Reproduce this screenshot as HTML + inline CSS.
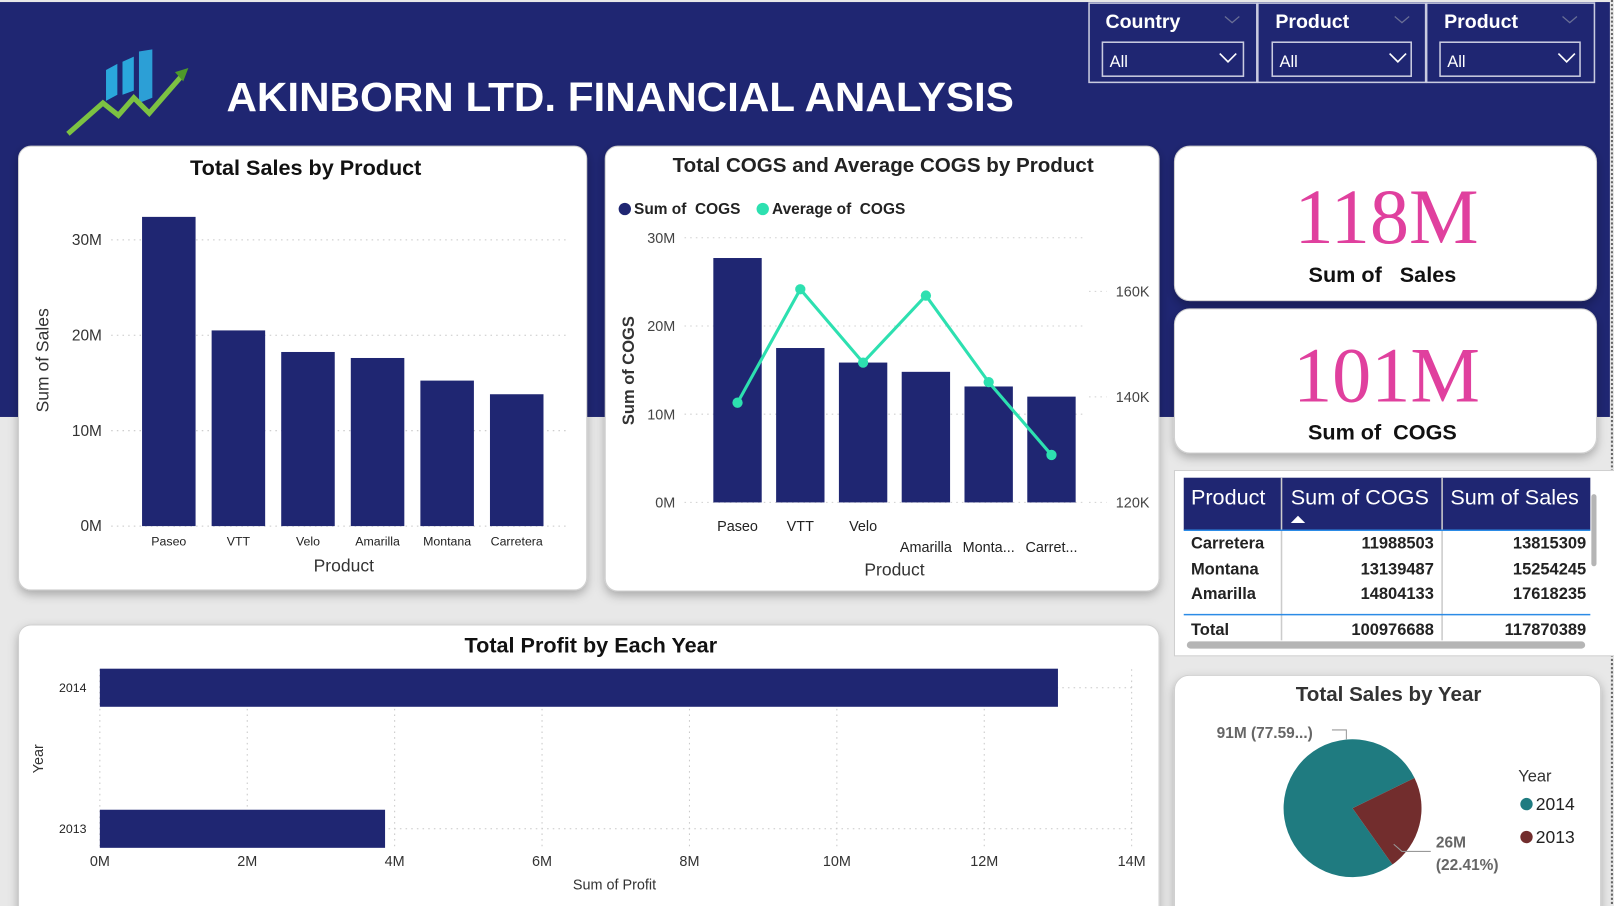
<!DOCTYPE html>
<html><head><meta charset="utf-8">
<style>
html,body{margin:0;padding:0;background:#e8e8e8;overflow:hidden}
svg{display:block}
text{font-family:"Liberation Sans",sans-serif;white-space:pre}
</style></head>
<body>
<svg id="root" xmlns="http://www.w3.org/2000/svg" width="1614" height="906" viewBox="0 0 1568 880" preserveAspectRatio="none">
<defs>
<filter id="sh" x="-5%" y="-5%" width="110%" height="115%"><feDropShadow dx="0" dy="4" stdDeviation="5" flood-color="#000" flood-opacity="0.28"/></filter>
</defs>
<rect x="0" y="0" width="1568" height="880" fill="#e8e8e8"/>
<rect x="0" y="2" width="1564" height="403" fill="#1f2672"/>
<line x1="1566" y1="0" x2="1566" y2="880" stroke="#666" stroke-width="2" stroke-dasharray="2,2"/>

<g>
<polygon points="103,68 114,62 114,92 103,98" fill="#2aa7dc"/>
<polygon points="119,60 130,55 130,88 119,92" fill="#2aa7dc"/>
<polygon points="135,50 148,48 148,95 135,100" fill="#2c9fd6"/>
<polyline points="66,130 100,100 115,112 130,95 145,110 178,72" fill="none" stroke="#7cc242" stroke-width="5"/>
<polygon points="183,66 170,70 178,79" fill="#4e9a2a"/>
</g>
<text x="220" y="108" font-size="40" font-weight="bold" fill="#fff" textLength="765" lengthAdjust="spacingAndGlyphs">AKINBORN LTD. FINANCIAL ANALYSIS</text>

<g>
<rect x="1058" y="3" width="163" height="77" fill="none" stroke="#c9cbe0" stroke-width="1.5"/>
<text x="1074" y="27" font-size="19" font-weight="bold" fill="#fff">Country</text>
<polyline points="1190,16 1197,22 1204,16" fill="none" stroke="#6a6f96" stroke-width="1.2"/>
<rect x="1071" y="41" width="137" height="33" fill="none" stroke="#c9cbe0" stroke-width="1.5"/>
<text x="1078" y="65" font-size="16" fill="#fff">All</text>
<polyline points="1185,52 1193,60 1201,52" fill="none" stroke="#fff" stroke-width="1.6"/>
</g>
<g>
<rect x="1222" y="3" width="163" height="77" fill="none" stroke="#c9cbe0" stroke-width="1.5"/>
<text x="1239" y="27" font-size="19" font-weight="bold" fill="#fff">Product</text>
<polyline points="1355,16 1362,22 1369,16" fill="none" stroke="#6a6f96" stroke-width="1.2"/>
<rect x="1236" y="41" width="135" height="33" fill="none" stroke="#c9cbe0" stroke-width="1.5"/>
<text x="1243" y="65" font-size="16" fill="#fff">All</text>
<polyline points="1350,52 1358,60 1366,52" fill="none" stroke="#fff" stroke-width="1.6"/>
</g>
<g>
<rect x="1386" y="3" width="163" height="77" fill="none" stroke="#c9cbe0" stroke-width="1.5"/>
<text x="1403" y="27" font-size="19" font-weight="bold" fill="#fff">Product</text>
<polyline points="1518,16 1525,22 1532,16" fill="none" stroke="#6a6f96" stroke-width="1.2"/>
<rect x="1399" y="41" width="136" height="33" fill="none" stroke="#c9cbe0" stroke-width="1.5"/>
<text x="1406" y="65" font-size="16" fill="#fff">All</text>
<polyline points="1514,52 1522,60 1530,52" fill="none" stroke="#fff" stroke-width="1.6"/>
</g>

<rect x="18" y="142" width="552" height="431" rx="12" fill="#fff" stroke="#d0d0d0" filter="url(#sh)"/>
<rect x="588" y="142" width="538" height="432" rx="12" fill="#fff" stroke="#d0d0d0" filter="url(#sh)"/>
<rect x="1141" y="142" width="410" height="150" rx="15" fill="#fff" stroke="#d0d0d0" filter="url(#sh)"/>
<rect x="1141" y="300" width="410" height="140" rx="15" fill="#fff" stroke="#d0d0d0" filter="url(#sh)"/>
<rect x="1141" y="457" width="430" height="180" fill="#fff" stroke="#d0d0d0"/>
<rect x="18" y="607" width="1108" height="290" rx="12" fill="#fff" stroke="#d0d0d0" filter="url(#sh)"/>
<rect x="1141" y="656" width="414" height="240" rx="14" fill="#fff" stroke="#d0d0d0" filter="url(#sh)"/>

<text x="1347" y="236" text-anchor="middle" font-size="76" fill="#e0409e" style="font-family:'Liberation Serif',serif">118M</text>
<text x="1343" y="274" text-anchor="middle" font-size="21" font-weight="bold" fill="#111">Sum of   Sales</text>
<text x="1347" y="390" text-anchor="middle" font-size="76" fill="#e0409e" style="font-family:'Liberation Serif',serif">101M</text>
<text x="1343" y="427" text-anchor="middle" font-size="21" font-weight="bold" fill="#111">Sum of  COGS</text>

<g>
<rect x="1150" y="464" width="395" height="51" fill="#1f2672"/>
<line x1="1245" y1="464" x2="1245" y2="622" stroke="#ccc" stroke-width="1.5"/>
<line x1="1401" y1="464" x2="1401" y2="622" stroke="#ccc" stroke-width="1.5"/>
<text x="1157" y="490" font-size="21" fill="#fff">Product</text>
<text x="1254" y="490" font-size="21" fill="#fff">Sum of COGS</text>
<polygon points="1254,508 1261,501 1268,508" fill="#fff"/>
<text x="1409" y="490" font-size="21" fill="#fff">Sum of Sales</text>
<line x1="1150" y1="515" x2="1545" y2="515" stroke="#2b8be6" stroke-width="1.5"/>
<g font-size="16" font-weight="bold" fill="#222">
<text x="1157" y="533">Carretera</text><text x="1393" y="533" text-anchor="end">11988503</text><text x="1541" y="533" text-anchor="end">13815309</text>
<text x="1157" y="558">Montana</text><text x="1393" y="558" text-anchor="end">13139487</text><text x="1541" y="558" text-anchor="end">15254245</text>
<text x="1157" y="582">Amarilla</text><text x="1393" y="582" text-anchor="end">14804133</text><text x="1541" y="582" text-anchor="end">17618235</text>
</g>
<line x1="1150" y1="597" x2="1545" y2="597" stroke="#2b8be6" stroke-width="1.5"/>
<g font-size="16" font-weight="bold" fill="#222">
<text x="1157" y="617">Total</text><text x="1393" y="617" text-anchor="end">100976688</text><text x="1541" y="617" text-anchor="end">117870389</text>
</g>
<rect x="1153" y="623" width="387" height="7" rx="3.5" fill="#b5b5b5"/>
<rect x="1546" y="480" width="5" height="70" rx="2.5" fill="#b5b5b5"/>
</g>

<g id="c1"></g><g id="c2"></g><g id="c3"></g><g id="c4"></g>

<text x="297" y="170" text-anchor="middle" font-size="21" font-weight="bold" fill="#111">Total Sales by Product</text>
<text x="858" y="167" text-anchor="middle" font-size="20" font-weight="bold" fill="#222">Total COGS and Average COGS by Product</text>
<text x="574" y="634" text-anchor="middle" font-size="21" font-weight="bold" fill="#111">Total Profit by Each Year</text>
<text x="1349" y="681" text-anchor="middle" font-size="20" font-weight="bold" fill="#333">Total Sales by Year</text>
</svg>

<script>
const salesProducts = ["Paseo","VTT","Velo","Amarilla","Montana","Carretera"];
const salesValues = [32.41, 20.51, 18.25, 17.62, 15.25, 13.82];
const salesTicks = [0, 10, 20, 30];
const cogsProducts = ["Paseo","VTT","Velo","Amarilla","Monta...","Carret..."];
const cogsSums = [27.7, 17.5, 15.85, 14.8, 13.14, 11.99];
const cogsAvgs = [138.9, 160.4, 146.5, 159.2, 142.8, 129.0];
const cogsTicks = [0, 10, 20, 30];
const avgTicks = [120, 140, 160];
const profitYears = ["2014","2013"];
const profitValues = [13.0, 3.87];
const profitTicks = [0, 2, 4, 6, 8, 10, 12, 14];
const pieYears = ["2014","2013"];
const pieValues = [91.45, 26.42];
const pieLabels = ["91M (77.59...)", "26M"];

const NS = "http://www.w3.org/2000/svg";
function mk(parent, tag, attrs, txt){
  const e = document.createElementNS(NS, tag);
  for (const k in attrs) e.setAttribute(k, attrs[k]);
  if (txt !== undefined) e.textContent = txt;
  parent.appendChild(e); return e;
}

(function(){
  const g = document.getElementById('c1');
  const y = v => 511 - v * 9.267;
  const x0 = 138, step = 67.6, bw = 52;
  salesTicks.forEach(t => {
    const tl = mk(g, 'text', {x:99, y:y(t)+5, 'text-anchor':'end', 'font-size':15, fill:'#333'}, t + 'M');
    
    
    mk(g, 'line', {x1:108, x2:552, y1:y(t), y2:y(t), stroke:'#c8c8c8', 'stroke-dasharray':'1.5,4'});
  });
  salesValues.forEach((v, i) => {
    const r = mk(g, 'rect', {x:x0 + i*step, y:y(v), width:bw, height:511 - y(v), fill:'#1f2672'});
    
    
    const l = mk(g, 'text', {x:x0 + i*step + bw/2, y:530, 'text-anchor':'middle', 'font-size':12, fill:'#222'}, salesProducts[i]);
    
    
  });
  const xt = mk(g, 'text', {x:334, y:555, 'text-anchor':'middle', 'font-size':17, fill:'#333'}, 'Product');
  
  
  const yt = mk(g, 'text', {x:0, y:0, 'text-anchor':'middle', 'font-size':17, fill:'#333', transform:'translate(47,350) rotate(-90)'}, 'Sum of Sales');
  
  
})();

(function(){
  const g = document.getElementById('c2');
  const y = v => 488 - v * 8.57;
  const y2 = v => 488 - (v - 120) * 5.125;
  const x0 = 693, step = 61, bw = 47;
  cogsTicks.forEach(t => {
    const tl = mk(g, 'text', {x:656, y:y(t)+5, 'text-anchor':'end', 'font-size':14, fill:'#444'}, t + 'M');
    
    
    mk(g, 'line', {x1:665, x2:1055, y1:y(t), y2:y(t), stroke:'#d0d0d0', 'stroke-dasharray':'1.5,4'});
  });
  avgTicks.forEach(t => {
    const tl = mk(g, 'text', {x:1084, y:y2(t)+5, 'font-size':14, fill:'#444'}, t + 'K');
    
    
    mk(g, 'line', {x1:1058, x2:1075, y1:y2(t), y2:y2(t), stroke:'#d0d0d0', 'stroke-dasharray':'1.5,4'});
  });
  cogsSums.forEach((v, i) => {
    const r = mk(g, 'rect', {x:x0 + i*step, y:y(v), width:bw, height:488 - y(v), fill:'#1f2672'});
    
    
    const l = mk(g, 'text', {x:x0 + i*step + bw/2, y: i < 3 ? 516 : 536, 'text-anchor':'middle', 'font-size':14, fill:'#222'}, cogsProducts[i]);
    
    
  });
  const pts = cogsAvgs.map((v, i) => (x0 + i*step + bw/2) + ',' + y2(v)).join(' ');
  const pl = mk(g, 'polyline', {points:pts, fill:'none', stroke:'#2de0b0', 'stroke-width':3});
  
  
  cogsAvgs.forEach((v, i) => {
    const c = mk(g, 'circle', {cx:x0 + i*step + bw/2, cy:y2(v), r:5, fill:'#2de0b0'});
    
    
  });
  const lg1 = mk(g, 'circle', {cx:607, cy:203, r:6, fill:'#1f2672'});
  
  
  const lt1 = mk(g, 'text', {x:616, y:208, 'font-size':15, 'font-weight':'bold', fill:'#222'}, 'Sum of  COGS');
  
  
  const lg2 = mk(g, 'circle', {cx:741, cy:203, r:6, fill:'#2de0b0'});
  
  
  const lt2 = mk(g, 'text', {x:750, y:208, 'font-size':15, 'font-weight':'bold', fill:'#222'}, 'Average of  COGS');
  
  
  const xt = mk(g, 'text', {x:869, y:559, 'text-anchor':'middle', 'font-size':17, fill:'#333'}, 'Product');
  
  
  const yt = mk(g, 'text', {x:0, y:0, 'text-anchor':'middle', 'font-size':16, 'font-weight':'bold', fill:'#333', transform:'translate(616,360) rotate(-90)'}, 'Sum of COGS');
  
  
})();

(function(){
  const g = document.getElementById('c3');
  const x = v => 97 + v * 71.6;
  const rowY = [668, 805];
  profitTicks.forEach(t => {
    mk(g, 'line', {x1:x(t), x2:x(t), y1:650, y2:826, stroke:'#c8c8c8', 'stroke-dasharray':'1.5,4'});
    const tl = mk(g, 'text', {x:x(t), y:841, 'text-anchor':'middle', 'font-size':14, fill:'#333'}, t + 'M');
    
    
  });
  profitValues.forEach((v, i) => {
    mk(g, 'line', {x1:97, x2:1100, y1:rowY[i], y2:rowY[i], stroke:'#c8c8c8', 'stroke-dasharray':'1.5,4'});
    const r = mk(g, 'rect', {x:97, y:rowY[i]-18.5, width:x(v)-97, height:37, fill:'#1f2672'});
    
    
    const l = mk(g, 'text', {x:84, y:rowY[i]+4, 'text-anchor':'end', 'font-size':12, fill:'#222'}, profitYears[i]);
    
    
  });
  const xt = mk(g, 'text', {x:597, y:864, 'text-anchor':'middle', 'font-size':14, fill:'#333'}, 'Sum of Profit');
  
  
  const yt = mk(g, 'text', {x:0, y:0, 'text-anchor':'middle', 'font-size':14, fill:'#333', transform:'translate(42,737) rotate(-90)'}, 'Year');
  
  
})();

(function(){
  const g = document.getElementById('c4');
  const cx = 1314, cy = 785, R = 67;
  const colors = ['#1f7b80', '#722d2d'];
  const total = pieValues.reduce((a, b) => a + b, 0);
  const start2013 = 64 * Math.PI / 180;
  const ang2013 = pieValues[1] / total * 2 * Math.PI;
  const slices = [
    {a0: start2013 + ang2013, a1: start2013 + 2*Math.PI},
    {a0: start2013, a1: start2013 + ang2013}
  ];
  const pt = a => [cx + R*Math.sin(a), cy - R*Math.cos(a)];
  slices.forEach((s, i) => {
    const p0 = pt(s.a0), p1 = pt(s.a1);
    const large = (s.a1 - s.a0) > Math.PI ? 1 : 0;
    const p = mk(g, 'path', {d:`M${cx},${cy} L${p0[0]},${p0[1]} A${R},${R} 0 ${large} 1 ${p1[0]},${p1[1]} Z`, fill:colors[i]});
    
    
  });
  mk(g, 'polyline', {points:'1294,709 1308,709 1308,718', fill:'none', stroke:'#999', 'stroke-width':1});
  const l1 = mk(g, 'text', {x:1182, y:717, 'font-size':15, 'font-weight':'bold', fill:'#666'}, pieLabels[0]);
  
  
  mk(g, 'polyline', {points:'1354,820 1362,827 1390,827', fill:'none', stroke:'#999', 'stroke-width':1});
  const l2 = mk(g, 'text', {x:1395, y:823, 'font-size':15, 'font-weight':'bold', fill:'#666'}, pieLabels[1]);
  
  
  const pct = (pieValues[1] / total * 100).toFixed(2);
  const l3 = mk(g, 'text', {x:1395, y:845, 'font-size':15, 'font-weight':'bold', fill:'#666'}, '(' + pct + '%)');
  
  
  const lt = mk(g, 'text', {x:1475, y:759, 'font-size':16, fill:'#333'}, 'Year');
  
  
  pieYears.forEach((yr, i) => {
    const c = mk(g, 'circle', {cx:1483, cy:781 + i*32, r:6, fill:colors[i]});
    
    
    const t = mk(g, 'text', {x:1492, y:787 + i*32, 'font-size':17, fill:'#222'}, yr);
    
    
  });
})();
</script>
</body></html>
